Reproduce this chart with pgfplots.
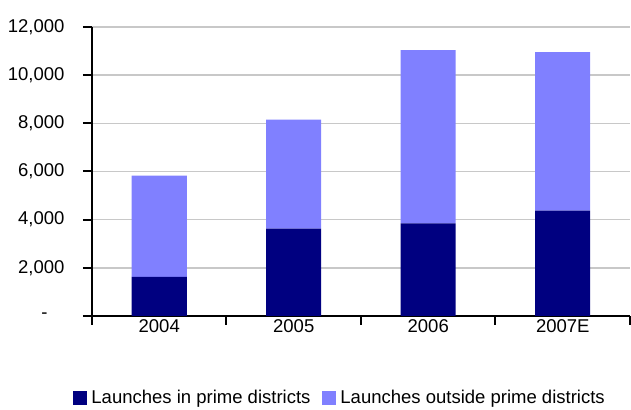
\documentclass[border=0pt]{standalone}
\usepackage{fontspec}
\setmainfont{Liberation Sans}
\usepackage{pgfplots}
\pgfplotsset{compat=1.18}
\definecolor{darkb}{HTML}{000080}
\definecolor{lightb}{HTML}{8080FF}
\definecolor{gridc}{HTML}{C8C8C8}
\begin{document}
\fontsize{9.25}{11}\selectfont
\begin{tikzpicture}
\begin{axis}[
 scale only axis, width=269pt, height=144.5pt,
 ybar stacked, bar width=27.5pt,
 xmin=-0.5, xmax=3.5, ymin=0, ymax=12000,
 scaled y ticks=false,
 xtick={0,1,2,3}, xticklabels={2004,2005,2006,2007E},
 minor xtick={-0.5,0.5,1.5,2.5,3.5},
 ytick={0,2000,4000,6000,8000,10000,12000},
 yticklabels={{-\rule{8.5pt}{0pt}},{2,000},{4,000},{6,000},{8,000},{10,000},{12,000}},
 axis x line*=bottom, axis y line*=left,
 axis line style={line width=1pt, -},
 tick align=outside,
 major tick length=4.5pt, minor tick length=4.5pt,
 major x tick style={draw=none},
 minor x tick style={black, line width=1pt},
 ytick style={black, line width=1pt},
 ymajorgrids, grid style={gridc, line width=0.8pt},
 /pgf/number format/assume math mode=true,
 tick label style={font=\fontsize{9.25}{11}\selectfont},
 yticklabel style={xshift=-6pt},
 xticklabel style={yshift=6pt},
 legend columns=2,
 legend cell align=left,
 legend style={draw=none, fill=none, at={(0.463,0)}, anchor=center, yshift=-41pt,
   font=\fontsize{9.25}{11}\selectfont,
   /tikz/every even column/.append style={column sep=4pt}},
 legend image code/.code={\fill[#1] (0pt,-3.5pt) rectangle (7pt,3.5pt);},
]
\addplot[fill=darkb, draw=none] coordinates {(0,1620) (1,3630) (2,3850) (3,4380)};
\addlegendentry{Launches in prime districts}
\addplot[fill=lightb, draw=none] coordinates {(0,4210) (1,4520) (2,7190) (3,6580)};
\addlegendentry{Launches outside prime districts}
\end{axis}
\pgfresetboundingbox
\path (current axis.south west) ++(-46pt,-47pt) rectangle ([shift={(0.5pt,13.5pt)}]current axis.north east);
\end{tikzpicture}
\end{document}
